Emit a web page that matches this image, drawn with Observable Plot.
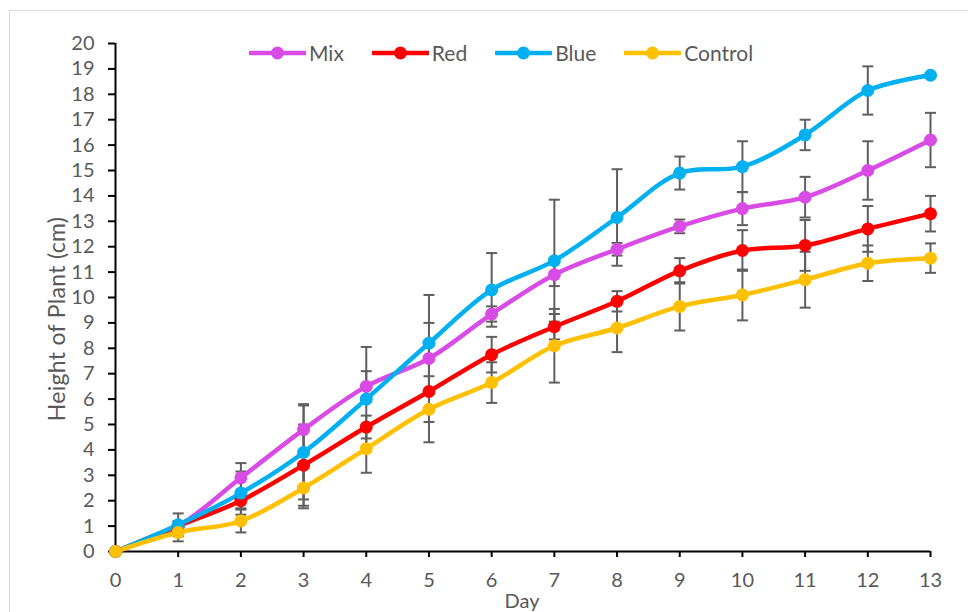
<!DOCTYPE html>
<html>
<head>
<meta charset="utf-8">
<script src="https://cdn.jsdelivr.net/npm/d3@7"></script>
<script src="https://cdn.jsdelivr.net/npm/@observablehq/plot@0.6"></script>
<style>
  html, body { margin: 0; padding: 0; background: #fff; }
  #wrap { position: relative; width: 968px; height: 612px; overflow: hidden; font-family: Lato, "Open Sans", sans-serif; }
  #border { position: absolute; left: 9px; top: 10px; width: 980px; height: 640px; border: 1px solid #d9d9d9; box-sizing: border-box; }
  #legend { position: absolute; top: 40px; left: 249px; display: flex; align-items: center; color: #595959; font-size: 21px; line-height: 26px; }
  #legend .item { display: flex; align-items: center; margin-right: 28px; }
  #legend svg { margin-right: 3px; }
  #ytitle { position: absolute; left: 56px; top: 319px; transform: translate(-50%, -50%) rotate(-90deg); white-space: nowrap; color: #595959; font-size: 23px; letter-spacing: 0.3px; }
  #xtitle { position: absolute; left: 522px; top: 589px; transform: translateX(-50%); color: #595959; font-size: 20px; line-height: 22px; }
</style>
</head>
<body>
<div id="wrap">
  <div id="border"></div>
  <div id="chart"></div>
  <div id="legend"></div>
  <div id="ytitle">Height of Plant (cm)</div>
  <div id="xtitle">Day</div>
</div>
<script>
const days = [0, 1, 2, 3, 4, 5, 6, 7, 8, 9, 10, 11, 12, 13];
const seriesNames = ["Mix", "Red", "Blue", "Control"];
const seriesColors = ["#D94BE5", "#FF0000", "#00B0F0", "#FFC000"];

const mix     = [0, 1.0, 2.9, 4.8, 6.5, 7.6, 9.35, 10.9, 11.9, 12.8, 13.5, 13.95, 15.0, 16.2];
const red     = [0, 1.0, 2.0, 3.4, 4.9, 6.3, 7.75, 8.85, 9.85, 11.05, 11.85, 12.05, 12.7, 13.3];
const blue    = [0, 1.05, 2.3, 3.9, 6.0, 8.2, 10.3, 11.45, 13.15, 14.9, 15.15, 16.4, 18.15, 18.75];
const control = [0, 0.75, 1.2, 2.5, 4.05, 5.6, 6.65, 8.1, 8.8, 9.65, 10.1, 10.7, 11.35, 11.55];

const mixErr     = [0, 0.2, 0.58, 1.0, 0.6, 1.4, 0.3, 0.45, 0.25, 0.27, 0.65, 0.8, 1.15, 1.07];
const redErr     = [0, 0.2, 0.3, 1.6, 0.45, 1.2, 0.7, 0.5, 0.4, 0.5, 0.8, 1.0, 0.9, 0.7];
const blueErr    = [0, 0.45, 0.85, 1.85, 2.05, 1.9, 1.45, 2.4, 1.9, 0.65, 1.0, 0.6, 0.95, 0];
const controlErr = [0, 0.35, 0.45, 0.8, 0.95, 1.3, 0.8, 1.45, 0.95, 0.95, 1.0, 1.1, 0.7, 0.58];

const yTicks = d3.range(0, 21);
const xTicks = days;

const valuesBy = {Mix: mix, Red: red, Blue: blue, Control: control};
const errBy = {Mix: mixErr, Red: redErr, Blue: blueErr, Control: controlErr};

const rows = seriesNames.flatMap(s => days.map((d, i) => ({series: s, day: d, value: valuesBy[s][i], err: errBy[s][i]})));
const errRows = rows.filter(r => r.err > 0);

const cap = { draw(ctx) { ctx.moveTo(-5.5, 0); ctx.lineTo(5.5, 0); } };

const chart = Plot.plot({
  width: 968,
  height: 612,
  marginLeft: 115,
  marginRight: 38,
  marginTop: 43,
  marginBottom: 61,
  style: { fontFamily: "Lato, 'Open Sans', sans-serif", background: "transparent" },
  x: { domain: [0, 13] },
  y: { domain: [0, 20] },
  color: { domain: seriesNames, range: seriesColors },
  marks: [
    Plot.axisY({ ticks: yTicks, tickSize: 7, tickPadding: 14, tickFormat: d => d, fontSize: 20, stroke: "black", strokeWidth: 2, fill: "#595959", label: null }),
    Plot.axisX({ ticks: xTicks, tickSize: 6, tickPadding: 15, tickFormat: d => d, fontSize: 20, stroke: "black", strokeWidth: 2, fill: "#595959", label: null }),
    Plot.ruleX([0], { stroke: "black", strokeWidth: 2 }),
    Plot.ruleY([0], { stroke: "black", strokeWidth: 2 }),
    Plot.ruleX(errRows, { x: "day", y1: d => d.value - d.err, y2: d => d.value + d.err, stroke: "#5f5f5f", strokeWidth: 2 }),
    Plot.dot(errRows, { x: "day", y: d => d.value + d.err, symbol: cap, stroke: "#5f5f5f", strokeWidth: 2, fill: "none" }),
    Plot.dot(errRows, { x: "day", y: d => d.value - d.err, symbol: cap, stroke: "#5f5f5f", strokeWidth: 2, fill: "none" }),
    Plot.line(rows, { x: "day", y: "value", z: "series", stroke: "series", strokeWidth: 4.5, curve: "catmull-rom" }),
    Plot.dot(rows, { x: "day", y: "value", fill: "series", r: 6.5, stroke: "none" })
  ]
});
document.getElementById("chart").appendChild(chart);

const legend = document.getElementById("legend");
seriesNames.forEach((s, i) => {
  const item = document.createElement("div");
  item.className = "item";
  item.innerHTML = `<svg width="57" height="16"><line x1="1" y1="8" x2="56" y2="8" stroke="${seriesColors[i]}" stroke-width="4.5" stroke-linecap="round"/><circle cx="28.5" cy="8" r="6.5" fill="${seriesColors[i]}"/></svg><span>${s}</span>`;
  legend.appendChild(item);
});
</script>
</body>
</html>
